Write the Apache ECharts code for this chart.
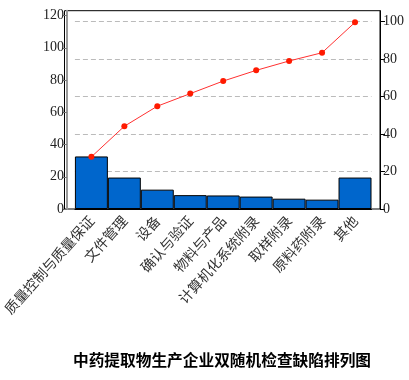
<!DOCTYPE html>
<html>
<head>
<meta charset="utf-8">
<script src="https://cdn.jsdelivr.net/npm/echarts@6/dist/echarts.min.js"></script>
<style>html,body{margin:0;padding:0;background:#fff;}#c{width:409px;height:380px;}</style>
</head>
<body>
<div id="c"></div>
<script>
var categories = ['质量控制与质量保证','文件管理','设备','确认与验证','物料与产品','计算机化系统附录','取样附录','原料药附录','其他'];
var defectCounts = [32.6, 19.5, 12.0, 8.6, 8.4, 7.7, 6.4, 5.8, 19.5];
var cumulativePct = [27.8, 44.1, 54.8, 61.5, 68.2, 73.9, 78.9, 83.3, 99.5];
var leftTicks = [0, 20, 40, 60, 80, 100, 120];
var rightTicks = [0, 20, 40, 60, 80, 100];
var titleText = '中药提取物生产企业双随机检查缺陷排列图';

var chart = echarts.init(document.getElementById('c'), null, {renderer: 'canvas'});
var axisFont = {fontFamily: 'Liberation Serif', fontSize: 14, color: '#222'};
chart.setOption({
  animation: false,
  title: {
    text: titleText,
    left: 73, top: 352, padding: 0,
    textStyle: {fontFamily: 'Noto Sans CJK SC', fontSize: 15.7, fontWeight: 'bold', color: '#000'}
  },
  grid: [
    {left: 72.7, right: 37.5, top: 10.7, bottom: 171},
    {left: 64.5, right: 29, top: 10.7, bottom: 171, show: true, borderColor: '#000', borderWidth: 1, backgroundColor: 'transparent', z: 0}
  ],
  xAxis: [
    {
      type: 'category', gridIndex: 0, data: categories, boundaryGap: true,
      axisLine: {lineStyle: {color: '#000', width: 1}},
      axisTick: {alignWithLabel: true, length: 5, lineStyle: {color: '#000'}},
      axisLabel: {rotate: 48, interval: 0, margin: 9, fontFamily: 'Noto Sans CJK SC', fontSize: 14, color: '#333'}
    },
    {type: 'value', gridIndex: 1, show: false}
  ],
  yAxis: [
    {
      type: 'value', gridIndex: 0, position: 'left', offset: 8, min: 0, max: 123, interval: 20,
      axisLine: {show: true, lineStyle: {color: '#999', width: 2}},
      axisTick: {show: true, length: 4, customValues: leftTicks, lineStyle: {color: '#777'}},
      axisLabel: Object.assign({margin: 3, customValues: leftTicks, formatter: function(v){ return v % 20 === 0 ? String(v) : ''; }}, axisFont),
      splitLine: {show: false}
    },
    {
      type: 'value', gridIndex: 0, position: 'right', offset: 8.5, min: 0, max: 105.7, interval: 20,
      axisLine: {show: true, lineStyle: {color: '#000', width: 1}},
      axisTick: {show: true, length: 5, customValues: rightTicks, lineStyle: {color: '#000'}},
      axisLabel: Object.assign({margin: 3, customValues: rightTicks, formatter: function(v){ return v % 20 === 0 ? String(v) : ''; }}, axisFont),
      splitLine: {show: true, lineStyle: {color: '#bbb', type: [5, 3], width: 1}}
    },
    {type: 'value', gridIndex: 1, show: false}
  ],
  series: [
    {
      type: 'bar', xAxisIndex: 0, yAxisIndex: 0, data: defectCounts,
      barCategoryGap: '0%',
      itemStyle: {color: '#0066CC', borderColor: '#000', borderWidth: 1}
    },
    {
      type: 'line', xAxisIndex: 0, yAxisIndex: 1, data: cumulativePct,
      symbol: 'circle', symbolSize: 6,
      itemStyle: {color: '#FF1a00'},
      lineStyle: {color: '#FF3030', width: 1}
    }
  ]
});
</script>
</body>
</html>
